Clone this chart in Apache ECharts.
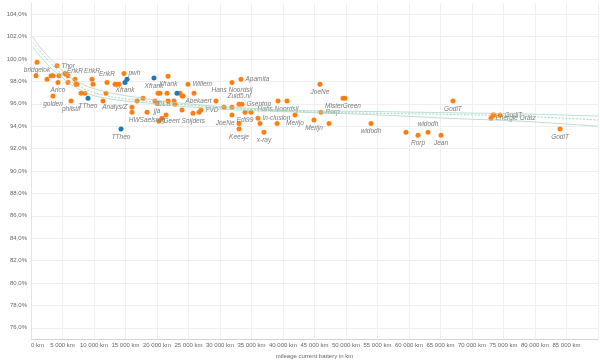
<!DOCTYPE html>
<html>
<head>
<meta charset="utf-8">
<script src="https://cdn.jsdelivr.net/npm/echarts@6/dist/echarts.min.js"></script>
<style>
html, body { margin: 0; padding: 0; background: #fff; }
#chart { width: 600px; height: 360px; }
</style>
</head>
<body>
<div id="chart"></div>
<script>
// [mileage km, % of original range, owner]
var orangePoints = [
	[950, 99.7, 'bridgelok'], [800, 98.5, ''], [2540, 98.2, ''], [3180, 98.5, ''], [3490, 98.5, ''],
	[4130, 99.4, 'Thor'], [4440, 98.5, ''], [4290, 97.9, 'Arico'], [5400, 98.7, ''], [5870, 98.5, ''],
	[5870, 97.9, ''], [6980, 98.2, 'ErikR'], [7140, 97.75, ''], [7300, 97.75, ''], [7940, 96.95, ''],
	[8570, 96.95, ''], [3490, 96.7, 'golden'], [6350, 96.25, 'philstil'], [9680, 98.2, 'ErikR'], [9840, 97.75, ''],
	[11430, 96.25, ''], [11900, 96.95, ''], [12060, 97.9, 'ErikR'], [13330, 97.75, ''], [13650, 97.75, ''],
	[13970, 97.75, ''], [14760, 98.7, 'pwh'], [16030, 95.7, 'Analys/Z'], [16030, 95.25, ''], [16830, 96.25, ''],
	[17780, 96.5, ''], [18410, 95.25, 'HWSaelsrog'], [19680, 96.25, ''], [20000, 96.05, 'jja'], [20160, 96.95, ''],
	[20480, 96.95, ''], [21750, 98.45, 'Xfrank'], [21590, 96.95, ''], [21750, 96.25, ''], [22700, 96.25, ''],
	[22860, 95.95, 'DLB'], [23650, 96.95, ''], [23970, 96.7, ''], [24130, 96.7, ''], [23970, 95.45, ''],
	[24920, 97.75, 'Willem'], [25870, 96.95, ''], [25710, 95.15, ''], [26670, 95.25, ''], [26980, 95.45, 'FVD'],
	[20320, 94.45, 'Geert Snijders'], [20790, 94.7, ''], [21430, 95.0, ''], [29370, 96.25, 'Abekaert'], [30630, 95.7, ''],
	[31900, 95.7, ''], [31900, 97.9, 'Hans Noordsij'], [33330, 98.2, 'Apamita'], [33020, 95.95, 'Zuid5.nl'], [33490, 95.95, 'Gseptop'],
	[31900, 95.0, ''], [33020, 94.25, 'JoeNe'], [33020, 93.75, 'Keesje'], [33970, 95.25, 'Edi99'], [34920, 95.25, ''],
	[36030, 94.7, 'In-clusion'], [36350, 94.25, ''], [36980, 93.45, 'x-ray'], [39050, 94.25, ''], [39210, 96.25, 'Hans Noordsij'],
	[40630, 96.25, ''], [41900, 95.0, 'Merijo'], [44920, 94.55, 'Merijn'], [45870, 97.75, 'JoeNe'], [46030, 95.25, 'Rorp'],
	[47300, 94.25, ''], [49520, 96.5, 'MisterGreen'], [49840, 96.5, ''], [53970, 94.25, 'widodh'], [59520, 93.45, ''],
	[61430, 93.2, 'Rorp'], [63020, 93.45, 'widodh'], [65080, 93.2, 'Jean'], [66980, 96.25, 'GodiT'], [73020, 94.7, 'Energie Grätz'],
	[73330, 95.0, ''], [73490, 95.0, ''], [74440, 95.0, 'GodiT'], [83970, 93.75, 'GodiT']
];
var bluePoints = [
	[9050, 96.5, 'TTheo'], [15240, 98.2, ''], [14920, 97.9, 'Xfrank'], [19520, 98.3, 'Xfrank'],
	[23170, 96.95, ''], [14290, 93.75, 'TTheo']
];

// fitted trend with band
var trendKm = [317, 1430, 3015, 4600, 7000, 10950, 18900, 26800, 34750, 42700, 55400, 66500, 77600, 90000];
var trendUpper = [101.95, 101.05, 100.07, 99.18, 98.1, 97.2, 96.4, 95.9, 95.6, 95.4, 95.3, 95.2, 95.1, 94.9];
var trendMid = [101.5, 100.7, 99.7, 98.8, 97.75, 96.85, 96.2, 95.8, 95.5, 95.3, 95.15, 95.05, 94.9, 94.55];
var trendLower = [101.1, 100.25, 99.3, 98.5, 97.5, 96.6, 96.05, 95.65, 95.4, 95.25, 95.0, 94.7, 94.45, 94.0];

// label placement, one per labelled point in order
var orangeLabelPos = ['bottom', 'right', 'bottom', 'top', 'bottom', 'bottom', 'top', 'top', 'right', 'left',
	'bottom', 'bottom', 'bottom', 'left', 'right', 'right', 'right', 'left', 'bottom', 'right',
	'top', 'right', 'left', 'bottom', 'bottom', 'right', 'bottom', 'bottom', 'bottom', 'bottom',
	'bottom', 'right', 'bottom', 'bottom', 'bottom', 'top', 'bottom', 'bottom', 'right', 'right', 'bottom'];
var blueLabelPos = ['bottom', 'bottom', 'bottom', 'bottom'];

function buildPoints(points, positions) {
	var k = 0;
	return points.map(function (p) {
		var item = { value: [p[0], p[1]], name: p[2] };
		if (p[2]) {
			item.label = { show: true, position: positions[k++] };
		}
		return item;
	});
}

function pairs(xs, ys) {
	return xs.map(function (x, i) { return [x, ys[i]]; });
}

var labelStyle = {
	show: false,
	formatter: '{b}',
	color: '#7a7a7a',
	fontStyle: 'italic',
	fontSize: 6.5,
	fontFamily: 'Liberation Sans, Arial, sans-serif',
	distance: 2
};

var trendStyle = { color: '#a9d6c4', width: 0.8 };

var chart = echarts.init(document.getElementById('chart'));
var option = {
	animation: false,
	textStyle: { fontFamily: 'Liberation Sans, Arial, sans-serif' },
	grid: { left: 31, right: 2, top: 3, bottom: 21, containLabel: false, outerBoundsMode: 'none' },
	xAxis: {
		type: 'value',
		min: 0,
		max: 90000,
		interval: 5000,
		name: 'mileage current battery in km',
		nameLocation: 'middle',
		nameGap: 9,
		nameTextStyle: { fontSize: 6, color: '#666' },
		axisLine: { show: true, lineStyle: { color: '#d4d4d4' } },
		axisTick: { show: false },
		axisLabel: {
			fontSize: 6,
			color: '#666',
			margin: 3,
			showMaxLabel: false,
			alignMinLabel: 'left',
			formatter: function (v) {
				return v === 0 ? '0 km' : (v / 1000) + ' 000 km';
			}
		},
		splitLine: { lineStyle: { color: '#efefef' } }
	},
	yAxis: {
		type: 'value',
		min: 75,
		max: 105,
		interval: 1,
		name: 'percentage of original range (60 kWh with 390km and 85 kWh with 480 km)',
		nameLocation: 'middle',
		nameGap: 26,
		nameTextStyle: { fontSize: 6, color: '#666' },
		axisLine: { show: true, lineStyle: { color: '#e4e4e4' } },
		axisTick: { show: false },
		axisLabel: {
			fontSize: 6,
			color: '#666',
			margin: 4,
			formatter: function (v) {
				return v % 2 === 0 ? v.toFixed(1).replace('.', ',') + '%' : '';
			}
		},
		splitLine: { lineStyle: { color: ['rgba(0,0,0,0)', '#efefef'] } }
	},
	series: [
		{
			type: 'line',
			data: pairs(trendKm, trendUpper),
			smooth: 0.4,
			symbol: 'none',
			lineStyle: trendStyle,
			silent: true
		},
		{
			type: 'line',
			data: pairs(trendKm, trendMid),
			smooth: 0.4,
			symbol: 'none',
			lineStyle: { color: '#94c9b4', width: 0.8, type: [2, 1.5] },
			silent: true
		},
		{
			type: 'line',
			data: pairs(trendKm, trendLower),
			smooth: 0.4,
			symbol: 'none',
			lineStyle: trendStyle,
			silent: true
		},
		{
			name: '85 kWh',
			type: 'scatter',
			symbolSize: 5,
			itemStyle: { color: '#ff7f0e', opacity: 1 },
			label: labelStyle,
			labelLayout: { hideOverlap: false },
			data: buildPoints(orangePoints, orangeLabelPos)
		},
		{
			name: '60 kWh',
			type: 'scatter',
			symbolSize: 5,
			itemStyle: { color: '#1f77b4', opacity: 1 },
			label: labelStyle,
			data: buildPoints(bluePoints, blueLabelPos)
		}
	]
};
option && chart.setOption(option);
</script>
</body>
</html>
